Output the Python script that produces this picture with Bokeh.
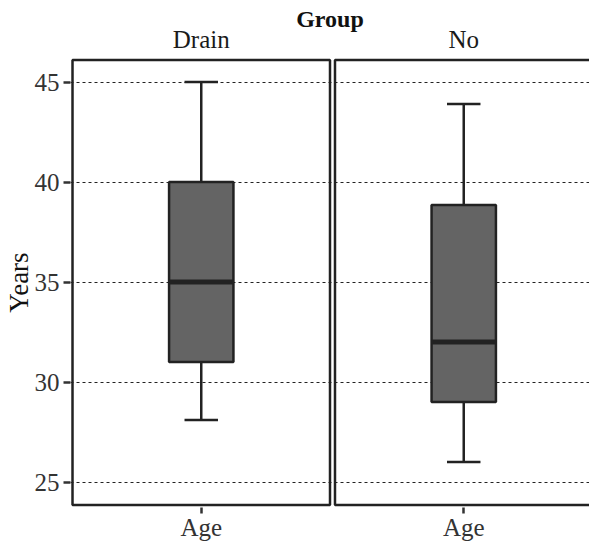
from bokeh.plotting import figure
from bokeh.models import Range1d, FixedTicker, LinearAxis
from bokeh.embed import file_html
from bokeh.resources import INLINE

# ---- data ----
groups = ["Drain", "No"]
variable = "Age"
facet_title = "Group"
y_label = "Years"
upper_whisker = [45.0, 43.9]
q3 = [40.0, 38.85]
median = [35.0, 32.0]
q1 = [31.0, 29.0]
lower_whisker = [28.1, 26.0]
y_ticks = [25, 30, 35, 40, 45]

# ---- layout constants ----
FONT = "Liberation Serif"
GAP = 0.0194          # gap between facet panels (in panel widths)
BOX_W = 0.25
CAP_W = 0.13
PANEL_BOTTOM, PANEL_TOP = 23.85, 46.1
LINE = "#222222"

lefts = [i * (1 + GAP) for i in range(len(groups))]
rights = [l + 1 for l in lefts]
centers = [l + 0.5 for l in lefts]

p = figure(width=589, height=548, output_backend="svg", toolbar_location=None,
           title=None,
           x_range=Range1d(-0.0078, 2.0078), y_range=Range1d(23.725, 46.225),
           min_border_left=70, min_border_right=0, min_border_top=57,
           min_border_bottom=41)
p.outline_line_color = None
p.background_fill_color = "white"
p.border_fill_color = "white"

# grid
p.xgrid.visible = False
p.ygrid.ticker = FixedTicker(ticks=y_ticks)
p.ygrid.grid_line_color = "#222222"
p.ygrid.grid_line_dash = "3 3"
p.ygrid.grid_line_width = 1

# y axis
yax = p.yaxis[0]
yax.ticker = FixedTicker(ticks=y_ticks)
yax.axis_line_color = None
yax.major_tick_out = 7
yax.major_tick_in = 0
yax.major_tick_line_width = 2.5
yax.major_tick_line_color = "#333333"
yax.minor_tick_line_color = None
yax.major_label_text_font = FONT
yax.major_label_text_font_size = "25px"
yax.major_label_text_color = "#333333"
yax.major_label_standoff = 4
yax.axis_label = y_label
yax.axis_label_text_font = FONT
yax.axis_label_text_font_size = "27px"
yax.axis_label_text_font_style = "normal"
yax.axis_label_text_color = "#111111"
yax.axis_label_standoff = -2

# x axis
xax = p.xaxis[0]
xax.ticker = FixedTicker(ticks=centers)
xax.major_label_overrides = {c: variable for c in centers}
xax.axis_line_color = None
xax.major_tick_out = 6
xax.major_tick_in = 0
xax.major_tick_line_width = 2.5
xax.major_tick_line_color = "#333333"
xax.minor_tick_line_color = None
xax.major_label_text_font = FONT
xax.major_label_text_font_size = "25px"
xax.major_label_text_color = "#333333"
xax.major_label_standoff = 0

# facet strip: an axis above, labelled with the group names and the facet variable
strip = LinearAxis(ticker=FixedTicker(ticks=centers),
                   major_label_overrides={c: g for c, g in zip(centers, groups)})
strip.axis_line_color = None
strip.major_tick_line_color = None
strip.minor_tick_line_color = None
strip.major_tick_out = 0
strip.major_tick_in = 0
strip.major_label_text_font = FONT
strip.major_label_text_font_size = "25px"
strip.major_label_text_color = "#1a1a1a"
strip.major_label_standoff = 5
strip.axis_label = facet_title
strip.axis_label_text_font = FONT
strip.axis_label_text_font_size = "24px"
strip.axis_label_text_font_style = "bold"
strip.axis_label_text_color = "#111111"
strip.axis_label_standoff = -9
p.add_layout(strip, "above")

# panel frames
p.quad(left=lefts, right=rights, bottom=PANEL_BOTTOM, top=PANEL_TOP,
       fill_color=None, line_color=LINE, line_width=2.5)

# whiskers
p.segment(x0=centers, y0=q3, x1=centers, y1=upper_whisker, line_color=LINE, line_width=2.5)
p.segment(x0=centers, y0=q1, x1=centers, y1=lower_whisker, line_color=LINE, line_width=2.5)
p.segment(x0=[c - CAP_W / 2 for c in centers], y0=upper_whisker,
          x1=[c + CAP_W / 2 for c in centers], y1=upper_whisker, line_color=LINE, line_width=2.5)
p.segment(x0=[c - CAP_W / 2 for c in centers], y0=lower_whisker,
          x1=[c + CAP_W / 2 for c in centers], y1=lower_whisker, line_color=LINE, line_width=2.5)

# boxes
p.vbar(x=centers, width=BOX_W, bottom=q1, top=q3, fill_color="#646464",
       line_color=LINE, line_width=2.5)
# medians
p.segment(x0=[c - BOX_W / 2 for c in centers], y0=median,
          x1=[c + BOX_W / 2 for c in centers], y1=median, line_color=LINE, line_width=5)

open("out.html", "w").write(file_html(p, INLINE))
